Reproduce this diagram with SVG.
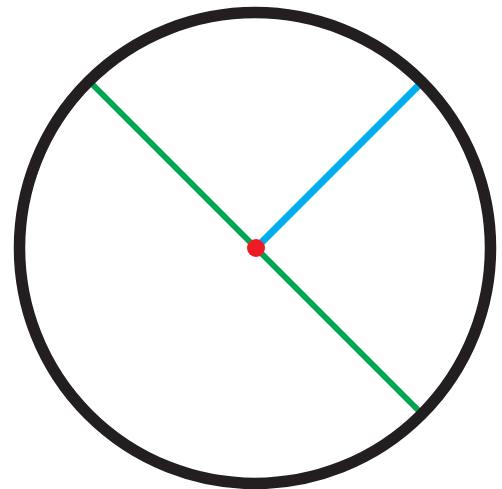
<svg xmlns="http://www.w3.org/2000/svg" width="502" height="489" viewBox="0 0 502 489">
<style>
.ln{stroke-linecap:butt;fill:none}
.green{stroke:#00a651;stroke-width:6}
.blue{stroke:#00aeef;stroke-width:7}
.ring{fill:none;stroke:#231f20;stroke-width:11.5}
</style>
<rect width="502" height="489" fill="#fff"/>
<g id="connectors">
<line class="ln green" x1="89" y1="81" x2="422" y2="414"/>
<line class="ln blue" x1="256" y1="248" x2="421" y2="83"/>
</g>
<g id="circle"><circle class="ring" cx="255" cy="248" r="235.5"/></g>
<g id="center"><circle cx="256" cy="248" r="9" fill="#ed1c24"/></g>
</svg>
